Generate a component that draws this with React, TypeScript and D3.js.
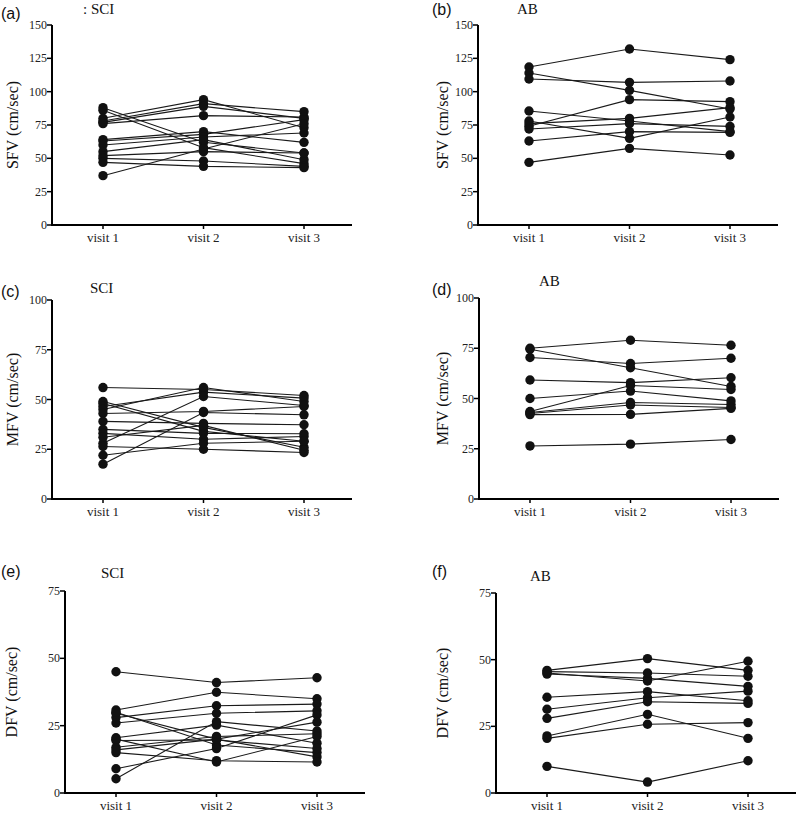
import React from "react";
import * as d3 from "d3";

const visits = ["visit 1", "visit 2", "visit 3"];

const sfvTicks = [0, 25, 50, 75, 100, 125, 150];
const mfvTicks = [0, 25, 50, 75, 100];
const dfvTicks = [0, 25, 50, 75];

// each row: one subject, values at visit 1, 2, 3
const sciSFV = [
  [88, 62, 54],
  [86, 58, 46],
  [80, 94, 73],
  [78, 91, 85],
  [77, 89, 80],
  [76, 82, 81],
  [64, 70, 62],
  [63, 68, 79],
  [60, 66, 69],
  [55, 64, 49],
  [52, 55, 54],
  [50, 48, 44],
  [47, 44, 43],
  [37, 57, 76],
];

const abSFV = [
  [118.5, 132, 124],
  [114, 101, 87],
  [109.5, 107, 108],
  [85.5, 78, 70],
  [78, 65, 81],
  [74, 94, 92.5],
  [76, 80, 88],
  [72, 76, 74],
  [63, 70, 69.5],
  [47, 57.5, 52.5],
];

const sciMFV = [
  [56, 55, 52],
  [49, 36, 26],
  [48, 34, 29],
  [46.5, 53.7, 50.7],
  [45, 56, 49],
  [43, 44, 46.5],
  [39, 38, 37.3],
  [35, 33, 32.8],
  [33, 30, 31.4],
  [28, 51.5, 47],
  [26.4, 25, 23.4],
  [22, 28, 29],
  [17.5, 43.5, 42.3],
  [31, 37, 24.5],
];

const abMFV = [
  [75, 79, 76.5],
  [74.5, 65.3, 56],
  [70.4, 67.4, 70],
  [59.2, 57.9, 60.3],
  [50, 53.7, 48.8],
  [43.5, 56.5, 54.5],
  [43, 48, 47],
  [42.5, 46.8, 45.5],
  [42, 42.1, 45.1],
  [26.4, 27.3, 29.6],
];

const sciDFV = [
  [45, 41, 42.8],
  [30.8, 37.4, 35],
  [29.6, 20, 13.4],
  [28, 32.4, 33],
  [30, 17.8, 15],
  [26, 29.6, 30.5],
  [20.5, 25.2, 18.5],
  [19.5, 19.7, 16.5],
  [17, 21, 22],
  [15, 12, 11.5],
  [9, 16.5, 29],
  [5.3, 26.5, 23],
  [20, 11.5, 21],
  [16, 20, 26.3],
];

const abDFV = [
  [46, 50.4, 46],
  [45, 42, 49.4],
  [44.6, 43, 40],
  [45.5, 45, 43.8],
  [35.9, 38, 34.6],
  [31.4, 35.7, 38.2],
  [28, 34.2, 33.6],
  [21.4, 29.5, 20.5],
  [20.5, 25.8, 26.4],
  [10, 4.1, 12.1],
];

type Panel = {
  letter: string;
  title: string;
  yLabel: string;
  data: number[][];
  ticks: number[];
  axisX: number;
  yTop: number;
  yBottom: number;
  letterX: number;
  letterY: number;
  titleX: number;
  titleY: number;
  labelX: number;
};

const panels: Panel[] = [
  { letter: "(a)", title: ": SCI", yLabel: "SFV (cm/sec)", data: sciSFV, ticks: sfvTicks,
    axisX: 52, yTop: 25, yBottom: 225, letterX: 1, letterY: 19, titleX: 83, titleY: 14, labelX: 13 },
  { letter: "(b)", title: "AB", yLabel: "SFV (cm/sec)", data: abSFV, ticks: sfvTicks,
    axisX: 478, yTop: 25, yBottom: 225, letterX: 432, letterY: 15, titleX: 517, titleY: 14, labelX: 443 },
  { letter: "(c)", title: "SCI", yLabel: "MFV (cm/sec)", data: sciMFV, ticks: mfvTicks,
    axisX: 52, yTop: 300, yBottom: 499, letterX: 1, letterY: 297, titleX: 90, titleY: 293, labelX: 13 },
  { letter: "(d)", title: "AB", yLabel: "MFV (cm/sec)", data: abMFV, ticks: mfvTicks,
    axisX: 479, yTop: 298, yBottom: 499, letterX: 432, letterY: 295, titleX: 539, titleY: 286, labelX: 443 },
  { letter: "(e)", title: "SCI", yLabel: "DFV (cm/sec)", data: sciDFV, ticks: dfvTicks,
    axisX: 65, yTop: 591, yBottom: 793, letterX: 1, letterY: 577, titleX: 101, titleY: 578, labelX: 12 },
  { letter: "(f)", title: "AB", yLabel: "DFV (cm/sec)", data: abDFV, ticks: dfvTicks,
    axisX: 496, yTop: 593, yBottom: 793, letterX: 432, letterY: 577, titleX: 530, titleY: 581, labelX: 443 },
];

const serif = "'Liberation Serif', 'DejaVu Serif', serif";
const sans = "'Liberation Sans', Arial, sans-serif";

function PanelView({ p }: { p: Panel }) {
  const maxV = p.ticks[p.ticks.length - 1];
  const y = d3.scaleLinear().domain([0, maxV]).range([p.yBottom, p.yTop]);
  const x = d3
    .scalePoint<string>()
    .domain(visits)
    .range([p.axisX + 51, p.axisX + 252]);
  const axisEnd = p.axisX + 300;
  const line = d3
    .line<number>()
    .x((_, i) => x(visits[i]) as number)
    .y((v) => y(v));
  const midY = (p.yTop + p.yBottom) / 2;
  return (
    <g>
      <text x={p.letterX} y={p.letterY} fontFamily={sans} fontSize={16} fill="#111">
        {p.letter}
      </text>
      <text x={p.titleX} y={p.titleY} fontFamily={serif} fontSize={15} fill="#111">
        {p.title}
      </text>
      <text
        transform={`translate(${p.labelX + 5},${midY}) rotate(-90)`}
        textAnchor="middle"
        fontFamily={serif}
        fontSize={16}
        fill="#111"
      >
        {p.yLabel}
      </text>
      {/* y axis */}
      <line x1={p.axisX} x2={p.axisX} y1={p.yTop} y2={p.yBottom} stroke="#000" strokeWidth={2} />
      {p.ticks.map((t) => (
        <g key={t}>
          <line x1={p.axisX - 5} x2={p.axisX} y1={y(t)} y2={y(t)} stroke="#000" strokeWidth={1.5} />
          <text
            x={p.axisX - 5}
            y={y(t) + 4}
            textAnchor="end"
            fontFamily={serif}
            fontSize={12}
            fill="#222"
          >
            {t}
          </text>
        </g>
      ))}
      {/* x axis */}
      <line x1={p.axisX - 1} x2={axisEnd} y1={p.yBottom} y2={p.yBottom} stroke="#000" strokeWidth={2} />
      {visits.map((v) => (
        <g key={v}>
          <line
            x1={x(v)}
            x2={x(v)}
            y1={p.yBottom}
            y2={p.yBottom + 4}
            stroke="#000"
            strokeWidth={1.5}
          />
          <text
            x={x(v)}
            y={p.yBottom + 17}
            textAnchor="middle"
            fontFamily={serif}
            fontSize={13}
            fill="#222"
          >
            {v}
          </text>
        </g>
      ))}
      {/* subjects */}
      {p.data.map((row, i) => (
        <path key={"l" + i} d={line(row) || ""} fill="none" stroke="#1a1a1a" strokeWidth={1.1} />
      ))}
      {p.data.map((row, i) =>
        row.map((v, j) => (
          <circle key={`c${i}-${j}`} cx={x(visits[j])} cy={y(v)} r={4.7} fill="#111" />
        ))
      )}
    </g>
  );
}

export default function App() {
  return (
    <svg
      width={800}
      height={813}
      style={{ position: "absolute", left: 0, top: 0, background: "#fff" }}
    >
      <rect width={800} height={813} fill="#fff" />
      {panels.map((p) => (
        <PanelView key={p.letter} p={p} />
      ))}
    </svg>
  );
}
